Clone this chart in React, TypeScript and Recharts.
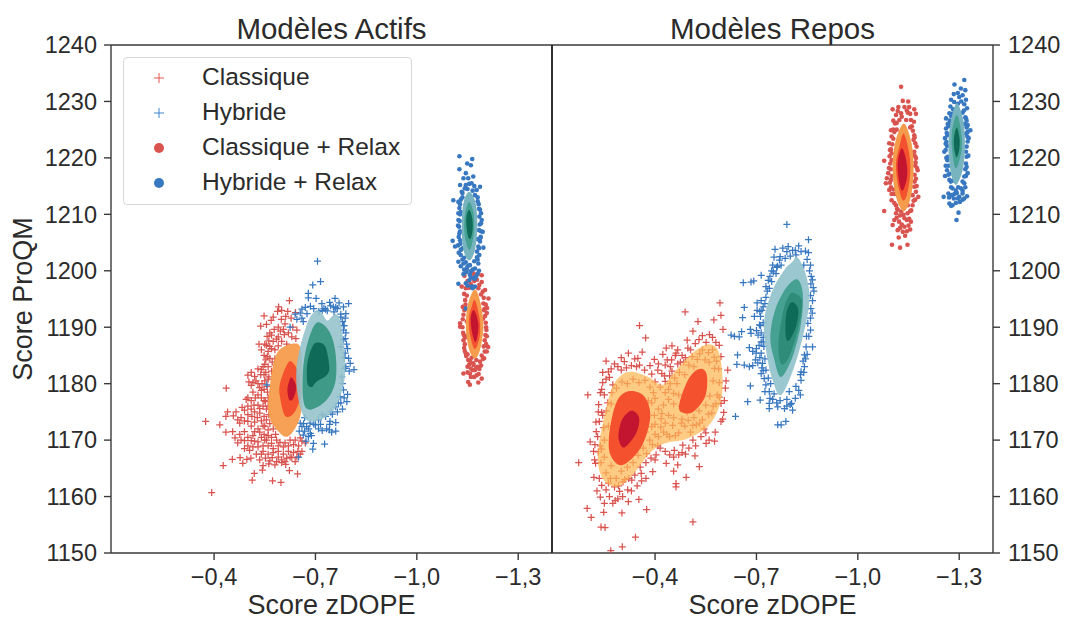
import { ReferenceLine, Scatter, ScatterChart, XAxis, YAxis } from "recharts"

type Pair = [number, number]

const FONT = "'Liberation Sans', Arial, sans-serif"
const INK = "#2b2b2b"
const RED = "#d9534f"
const BLUE = "#3878c0"

const yTicks = [1150, 1160, 1170, 1180, 1190, 1200, 1210, 1220, 1230, 1240]
const xTicks = [-0.4, -0.7, -1.0, -1.3]
const legendLabels = ["Classique", "Hybride", "Classique + Relax", "Hybride + Relax"]

// points (zDOPE, ProQM)
const activeClassique: Pair[] = [
  [-.393,1160.7],[-.375,1173.3],[-.417,1172.7],[-.435,1171.4],[-.436,1179.2],[-.427,1165.5],[-.454,1166.6],[-.477,1166.9],[-.485,1165.9],[-.497,1166.6],[-.509,1166.8],[-.519,1164.1],[-.513,1162.9],[-.543,1164.7],[-.573,1162.8],[-.598,1162.5],[-.623,1164.6],[-.647,1164],
  [-.623,1194.7],[-.591,1193.6],[-.588,1192.8],[-.569,1191.2],[-.538,1190.2],[-.599,1191.4],[-.612,1191.9],[-.628,1191.6],[-.641,1192.6],[-.633,1190],[-.645,1189.5],[-.59,1190],[-.596,1189.3],[-.608,1188.7],[-.62,1189],[-.63,1188.3],[-.642,1188],[-.557,1188.4],[-.562,1187.6],[-.533,1187],[-.575,1187.5],[-.585,1187.9],[-.6,1187.5],[-.615,1187],[-.56,1185.7],[-.57,1186.2],[-.58,1186],[-.548,1185],[-.553,1184.2],[-.565,1184.5],[-.572,1183.8],[-.58,1184.4],[-.56,1183],[-.553,1182],[-.57,1182.2],
  [-.5,1181.5],[-.503,1180.3],[-.51,1179.7],[-.524,1180.5],[-.538,1181.6],[-.53,1180],[-.55,1180.5],[-.557,1179.5],[-.515,1178.5],[-.53,1178],[-.54,1178.8],[-.5,1177.5],[-.495,1177.2],[-.56,1177.5],[-.548,1177],[-.53,1176.2],[-.545,1176],[-.555,1175.5],[-.483,1175.8],[-.51,1175.5],[-.52,1175],[-.5,1174.5],[-.535,1174.8],[-.548,1174.2],[-.44,1175],[-.435,1174.2],[-.457,1174.3],[-.48,1174],[-.47,1173.6],[-.476,1173],[-.5,1173.3],[-.52,1173.2],[-.54,1173.4],[-.49,1171.5],[-.476,1171],[-.52,1171.5],[-.53,1172],[-.55,1172.5],[-.56,1171.8],[-.48,1170],[-.5,1170.5],[-.54,1170.5],[-.49,1169.9],[-.51,1169.9],[-.53,1169.7],[-.555,1170],[-.57,1170.5],[-.585,1170],
  [-.53,1168.8],[-.545,1169],[-.56,1169],[-.575,1168.5],[-.59,1169],[-.605,1168.8],[-.62,1169],[-.635,1169.2],[-.65,1169],[-.545,1168],[-.56,1167.5],[-.575,1167.8],[-.59,1168],[-.605,1167.5],[-.62,1168],[-.635,1167.8],[-.648,1168],[-.66,1168],[-.572,1166.9],[-.585,1166.2],[-.6,1166.5],[-.615,1166.8],[-.63,1166.9],[-.645,1167],[-.535,1166.5],[-.58,1165.6],[-.6,1166],[-.612,1165.7],
  [-.548,1192],[-.555,1190.5],[-.578,1189.6],[-.565,1189],[-.61,1190.6],[-.575,1191.8],[-.618,1192.8],[-.6,1193],[-.57,1188.6],[-.59,1188.3],[-.605,1189.6],[-.55,1187],[-.54,1186],[-.565,1186.6],[-.555,1186.8],[-.59,1186.7],[-.55,1183.4],[-.558,1184.8],[-.545,1183],[-.54,1182.5],[-.562,1181.2],[-.548,1181.6],[-.56,1180.8],[-.542,1180],[-.52,1181.3],[-.51,1182],[-.53,1182.6],[-.515,1180.2],[-.535,1179.3],[-.548,1179],[-.558,1178.5],[-.522,1177.5],[-.51,1177],[-.54,1177.5],[-.518,1176.2],[-.5,1176],[-.49,1175.3],[-.535,1175.6],[-.552,1176.8],[-.56,1176],[-.562,1174.5],[-.555,1173.6],[-.565,1172.9],[-.545,1172.5],[-.528,1174],[-.512,1174.2],[-.49,1173.4],[-.465,1175],[-.455,1171.5],[-.462,1170.4],[-.51,1172.5],[-.535,1171.4],[-.575,1172],[-.582,1171],[-.548,1171],[-.56,1170.8],[-.515,1170.8],[-.47,1169.5],[-.5,1169],[-.515,1168.8],[-.54,1167.5],[-.55,1170],[-.57,1169.4],[-.595,1169.6],[-.61,1169.5],[-.625,1170],[-.64,1170],[-.655,1170.4],[-.67,1169.5],[-.525,1167.5],[-.552,1166.8],[-.565,1166.3],[-.59,1167],[-.61,1166.2],[-.625,1167],[-.64,1166.2],[-.655,1167.5],[-.545,1165.5],[-.562,1165.8],[-.66,1169.8],[-.52,1169.8],[-.505,1168.2],[-.49,1168.5],
]

const activeHybride: Pair[] = [
  [-.706,1201.7],[-.692,1197.5],[-.715,1198.1],[-.679,1196],[-.679,1195.2],[-.702,1195.1],[-.758,1195.1],[-.798,1194.2],[-.719,1194.2],[-.753,1193.6],[-.783,1193.6],[-.66,1193.2],[-.64,1192.3],[-.645,1191.4],[-.664,1191],[-.788,1191.6],[-.783,1189.5],[-.788,1188],[-.788,1185.4],[-.798,1184.5],[-.803,1183.6],[-.814,1182.5],[-.788,1182.7],[-.778,1181.2],[-.556,1179.8],[-.783,1178.9],[-.795,1178.1],[-.773,1177.7],[-.793,1176.8],[-.768,1176.5],
  [-.709,1173.6],[-.743,1173.3],[-.76,1173.1],[-.709,1172],[-.733,1172],[-.741,1171.8],[-.76,1171.6],[-.684,1173],[-.674,1172.4],[-.66,1172.4],[-.664,1170.9],[-.679,1170.6],[-.694,1169.4],[-.727,1169.3],[-.692,1168.4],[-.65,1167],[-.625,1190],
  [-.755,1192.7],[-.775,1192.3],[-.765,1193.3],[-.725,1193.3],[-.695,1193.3],[-.675,1192.4],[-.66,1191.6],[-.742,1194.4],[-.78,1191],[-.775,1186.5],[-.785,1190.3],[-.792,1187],[-.78,1175.5],[-.765,1175],[-.75,1174.6],[-.72,1174.5],[-.7,1172.7],[-.668,1174],[-.652,1171.6],[-.672,1169.8],[-.685,1171.2],[-.742,1172.8],
  [-.72,1193],[-.73,1193.2],[-.745,1193.8],[-.76,1193.5],[-.77,1194.3],[-.71,1192.8],[-.685,1193.7],[-.67,1193.5],[-.655,1192.5],[-.735,1192.9],[-.775,1191.8],[-.79,1192.4],[-.783,1190.3],[-.79,1189],[-.782,1187.8],[-.795,1186.2],[-.785,1184.6],[-.79,1183],[-.8,1182.2],[-.78,1180],[-.785,1177.5],[-.775,1176.6],[-.76,1175.9],[-.745,1175],[-.73,1174.2],[-.715,1172.8],[-.695,1172.8],[-.68,1172],[-.665,1172.9],[-.655,1173],[-.72,1171.7],[-.748,1171.4],[-.668,1171.6],[-.688,1170.8],
]

const activeClassiqueRelax: Pair[] = [
  [-1.141,1199.1],[-1.133,1197.2],[-1.192,1199.2],[-1.192,1198],[-1.182,1196.9],[-1.202,1196.6],[-1.212,1195.1],[-1.143,1194.8],[-1.197,1194.2],[-1.136,1193.6],[-1.138,1192.2],[-1.207,1192.5],[-1.128,1190.7],[-1.206,1189.5],[-1.128,1190.1],[-1.138,1187.7],[-1.201,1187.7],[-1.211,1186.5],[-1.145,1185.4],[-1.201,1185.7],[-1.152,1184.2],[-1.187,1183.9],[-1.167,1183.6],[-1.138,1181.8],[-1.157,1181.8],[-1.177,1181.5],[-1.192,1180.9],[-1.152,1180.3],[-1.157,1179.8],[-1.182,1180.2],[-1.172,1182.4],
  [-1.15,1198.2],[-1.165,1198.8],[-1.178,1198.4],[-1.145,1196.9],[-1.155,1197],[-1.19,1195.8],[-1.14,1195.9],[-1.2,1193.2],[-1.141,1193],[-1.204,1190.8],[-1.137,1189],[-1.203,1188.6],[-1.14,1186.3],[-1.198,1186.6],[-1.146,1184.9],[-1.192,1185],[-1.155,1183.4],[-1.18,1183],[-1.165,1182.4],[-1.15,1183],[-1.185,1182.6],[-1.162,1184.6],[-1.176,1184.2],[-1.148,1191],[-1.196,1191.5],[-1.143,1188.2],[-1.199,1184.5],[-1.16,1181.2],
  [-1.148,1197],[-1.16,1197.6],[-1.185,1197.5],[-1.195,1196.3],[-1.148,1195.6],[-1.198,1195.2],[-1.144,1194],[-1.204,1194],[-1.14,1193.5],[-1.208,1193.4],[-1.136,1191.4],[-1.202,1192],[-1.135,1190],[-1.205,1190],[-1.139,1188.6],[-1.207,1188.4],[-1.142,1187],[-1.205,1187],[-1.142,1185.8],[-1.207,1185.7],[-1.15,1185.2],[-1.196,1184.4],[-1.158,1184],[-1.19,1183.2],[-1.168,1183.3],[-1.176,1182.8],[-1.16,1182.7],[-1.15,1182],[-1.183,1181.7],[-1.17,1181.2],[-1.148,1188.5],[-1.199,1193],[-1.17,1198.2],[-1.18,1199.4],[-1.168,1199.5],[-1.155,1198.2],
]

const activeHybrideRelax: Pair[] = [
  [-1.126,1220.3],[-1.164,1219.8],[-1.149,1219],[-1.16,1218.7],[-1.126,1218],[-1.145,1217.3],[-1.138,1216.4],[-1.152,1216.4],[-1.167,1216.7],[-1.128,1215.2],[-1.162,1215.5],[-1.187,1214.9],[-1.177,1214.3],[-1.133,1214],[-1.108,1212.5],[-1.123,1212.2],[-1.187,1210.8],[-1.126,1211.1],[-1.192,1209],[-1.123,1209],[-1.195,1206.9],[-1.126,1206.6],[-1.128,1205.4],[-1.106,1205.3],[-1.113,1204.3],[-1.187,1205.2],[-1.197,1204.1],[-1.182,1204.3],[-1.13,1202.8],[-1.185,1202.8],[-1.123,1201.6],[-1.138,1201.3],[-1.182,1201.3],[-1.157,1201],[-1.172,1200.4],[-1.138,1199.4],[-1.157,1199.3],[-1.167,1198.7],[-1.123,1197.7],[-1.145,1197.8],[-1.162,1197.2],[-1.172,1197.2],[-1.145,1193.3],
  [-1.145,1215.2],[-1.17,1215],[-1.155,1215.4],[-1.135,1213],[-1.18,1213],[-1.128,1210],[-1.183,1211.8],[-1.186,1208.2],[-1.125,1207.8],[-1.19,1207],[-1.122,1204.5],[-1.189,1206],[-1.13,1203.7],[-1.178,1202.4],[-1.14,1202.3],[-1.165,1200.2],[-1.148,1200.3],[-1.13,1200.8],[-1.175,1199],[-1.155,1198.3],[-1.147,1199.8],[-1.184,1200],
  [-1.15,1214.5],[-1.142,1214.6],[-1.165,1214.2],[-1.135,1213.8],[-1.172,1213.4],[-1.13,1212.6],[-1.18,1212.3],[-1.128,1211.8],[-1.184,1211],[-1.13,1210.4],[-1.19,1210.2],[-1.123,1210.2],[-1.185,1209.6],[-1.127,1208.8],[-1.19,1208.4],[-1.122,1208],[-1.184,1207.2],[-1.128,1207],[-1.188,1205.8],[-1.124,1206],[-1.181,1205.6],[-1.129,1204.8],[-1.184,1204],[-1.135,1204],[-1.178,1203.4],[-1.124,1203.2],[-1.18,1202],[-1.135,1202],[-1.145,1201.5],[-1.17,1201.7],[-1.15,1200.8],[-1.16,1199.9],[-1.14,1200.2],[-1.172,1198.6],[-1.18,1199.5],[-1.165,1196.9],[-1.15,1197.4],[-1.16,1198.8],
]

const reposClassique: Pair[] = [
  [-.592,1194.3],[-.489,1192.7],[-.595,1192.1],[-.527,1191],[-.574,1191.3],[-.354,1190.3],[-.601,1189.6],[-.512,1189.3],[-.561,1188.7],[-.372,1188.1],[-.495,1187.7],[-.519,1187.1],[-.551,1187.3],[-.59,1186.8],[-.45,1186.7],[-.433,1186.3],[-.467,1186],[-.497,1186.3],[-.362,1185.6],[-.321,1185.4],[-.423,1185.2],[-.462,1185.4],[-.349,1184.5],[-.255,1184],[-.309,1183.9],[-.28,1183.5],[-.398,1184.3],[-.436,1184.2],[-.449,1184.2],[-.467,1183.5],[-.354,1183.3],[-.43,1183.3],[-.245,1182],[-.262,1182.1],[-.3,1182.4],[-.369,1182.4],[-.408,1182.4],[-.265,1181.1],[-.245,1180.2],[-.275,1179.8],[-.242,1179],[-.238,1178.4],[-.201,1178],[-.428,1181.4],[-.443,1181.4],[-.233,1176.3],[-.242,1174.9],[-.235,1173.3],[-.226,1171.5],[-.208,1169.7],[-.23,1170.6],[-.174,1166],[-.221,1166.5],[-.224,1165.9],[-.219,1163.4],[-.235,1163.2],[-.242,1162],[-.255,1161.2],[-.28,1161.7],[-.319,1161.2],[-.295,1160.9],[-.238,1159.9],[-.265,1160],[-.275,1158.8],[-.304,1160],[-.321,1159.1],[-.352,1159.5],[-.199,1157.9],[-.248,1157.2],[-.302,1157.1],[-.375,1157.7],[-.211,1156.3],[-.24,1154.6],[-.252,1154.5],[-.342,1152.8],[-.303,1151.1],[-.269,1150.4],[-.512,1155.5],
  [-.408,1169],[-.403,1167.4],[-.373,1166],[-.388,1166.8],[-.393,1164.4],[-.373,1163.2],[-.359,1164.1],[-.347,1161.9],[-.331,1162.9],[-.433,1165.9],[-.443,1167.4],[-.467,1165.6],[-.455,1164.5],[-.492,1163.4],[-.462,1162.3],[-.462,1161.7],[-.531,1165.3],[-.518,1167.2],[-.49,1167.5],[-.457,1168.2],[-.482,1169.1],[-.512,1170],[-.536,1170.6],[-.551,1169.4],[-.576,1169.8],[-.578,1171.4],[-.595,1173.3],[-.603,1174.9],[-.595,1176.5],[-.608,1179.2],[-.615,1182.4],[-.595,1184.8],
  [-.34,1184.4],[-.3,1184.6],[-.33,1183.2],[-.29,1183],[-.27,1182.6],[-.315,1182.8],[-.345,1183],[-.385,1183.2],[-.41,1183.5],[-.42,1181.8],[-.39,1181.7],[-.445,1183],[-.46,1185],[-.48,1185],[-.49,1184.6],[-.505,1186],[-.53,1187.8],[-.54,1188.5],[-.57,1188.2],[-.58,1187.3],[-.255,1180.8],[-.25,1178],[-.232,1175],[-.225,1173.2],[-.222,1169.2],[-.218,1168],[-.232,1167.9],[-.228,1161],[-.25,1158.8],[-.282,1159.3],[-.29,1159.6],[-.33,1161],[-.36,1162.8],[-.55,1171.3],[-.56,1170],[-.52,1169],[-.5,1168.6],[-.48,1167.8],[-.455,1167],[-.47,1167.4],[-.43,1168],[-.415,1168.6],[-.4,1166.5],[-.6,1173.7],[-.605,1177],[-.61,1180.5],
  // under the contours
  [-.25,1170],[-.262,1172.5],[-.24,1166],[-.255,1164.2],[-.27,1165.5],[-.285,1163.2],[-.3,1164.5],[-.318,1165.2],[-.335,1166],[-.35,1167.3],[-.365,1168.6],[-.384,1170],[-.4,1171],[-.417,1172.3],[-.435,1171],[-.452,1172.6],[-.47,1171.3],[-.488,1172.5],[-.505,1171.4],[-.522,1172.7],[-.54,1173.6],[-.558,1174.6],[-.572,1176],[-.584,1178],[-.59,1180.2],[-.588,1182.6],[-.575,1184.7],[-.558,1185.5],[-.54,1186],[-.525,1184.3],[-.51,1184.8],[-.5,1183.3],[-.485,1183.8],[-.472,1182],[-.458,1181],[-.445,1180],[-.43,1178.4],[-.415,1179.4],[-.4,1180.3],[-.385,1179.4],[-.37,1180.6],[-.352,1180.2],[-.335,1180.8],[-.318,1180],[-.302,1180.3],[-.286,1179.2],[-.27,1176.4],[-.256,1175.2],[-.248,1172.2],[-.4,1177.4],[-.41,1175.5],[-.425,1176.2],[-.44,1177.2],[-.455,1176.4],[-.47,1178],[-.455,1174],[-.44,1174.4],[-.418,1173.8],[-.398,1174.4],[-.39,1172.4],[-.372,1171.4],[-.48,1173.7],[-.498,1173.5],[-.515,1174],[-.53,1175.2],[-.55,1176.2],[-.562,1177.8],[-.572,1180.5],[-.576,1182.7],[-.56,1183.8],[-.242,1168.4],[-.292,1161.9],[-.262,1162.4],[-.31,1163],
  [-.425,1171.4],[-.443,1170.6],[-.46,1170.8],[-.478,1173],[-.495,1175],[-.512,1172.6],[-.532,1173],[-.545,1172],[-.568,1174.8],[-.58,1176.4],[-.59,1177.6],[-.42,1174.7],[-.43,1180.4],[-.44,1179],[-.45,1182.2],[-.465,1180],[-.478,1176],[-.455,1178.3],[-.43,1173],[-.41,1170.6],[-.392,1169.2],[-.375,1167.6],[-.356,1165.2],[-.34,1163.8],[-.322,1163.2],[-.305,1162.6],[-.268,1163.2],[-.25,1167],[-.238,1169],[-.245,1174.4],[-.26,1176.6],[-.272,1178.4],[-.39,1176.6],[-.395,1178.4],[-.38,1177],[-.4,1172.8],[-.582,1184],[-.57,1186],[-.548,1184.2],[-.532,1185.3],[-.515,1183],[-.488,1181.6],[-.475,1183.8],
]

const reposHybride: Pair[] = [
  [-.79,1208.2],[-.854,1205.5],[-.755,1203.8],[-.778,1204],[-.794,1204.3],[-.825,1204.4],[-.832,1203.4],[-.807,1203.6],[-.854,1203.2],[-.817,1202.8],[-.85,1202],[-.768,1201.9],[-.785,1202.2],[-.748,1201],[-.773,1201],[-.745,1200],[-.758,1199.5],[-.714,1199.2],[-.857,1200],[-.684,1198],[-.692,1198.2],[-.661,1197.9],[-.745,1198.1],[-.866,1198.4],[-.861,1197.7],[-.738,1196.9],[-.702,1194.3],[-.714,1194.7],[-.728,1195.3],[-.866,1194.7],[-.861,1193.3],[-.664,1193.5],[-.702,1193],[-.659,1191.7],[-.694,1191.9],[-.712,1191.9],[-.852,1190.7],[-.709,1190.4],[-.682,1189.6],[-.656,1189.2],[-.625,1188.6],[-.635,1188.4],[-.649,1188.3],[-.684,1188.9],[-.714,1189],[-.714,1187.4],[-.679,1186.4],[-.689,1185.7],[-.866,1186.5],[-.847,1186.5],[-.699,1185.4],[-.714,1185.4],[-.644,1185.1],[-.842,1185.1],[-.642,1183.4],[-.664,1183.3],[-.679,1183],[-.689,1183.2],[-.704,1183.7],[-.718,1183.6],[-.842,1183],[-.832,1182.1],[-.714,1181.8],[-.723,1180.9],[-.832,1180.6],[-.728,1179.8],[-.682,1179.6],[-.817,1179.5],[-.738,1178.6],[-.797,1178.6],[-.674,1176.8],[-.711,1177.1],[-.738,1176.5],[-.763,1175.9],[-.783,1175.6],[-.807,1175.3],[-.804,1176.5],[-.738,1175.6],[-.638,1174.2],[-.763,1172.7],[-.773,1172.7],[-.787,1173.3],
  [-.752,1202.4],[-.76,1200.6],[-.735,1198.3],[-.728,1197.2],[-.72,1193.6],[-.71,1192.8],[-.72,1190.8],[-.7,1189.4],[-.72,1188.2],[-.708,1186.8],[-.722,1186.6],[-.697,1184.2],[-.725,1184.4],[-.728,1182.4],[-.735,1181],[-.742,1180],[-.752,1178.2],[-.748,1177.2],[-.77,1177],[-.79,1177.2],[-.815,1177.4],[-.825,1178.8],[-.83,1181.6],[-.838,1184],[-.848,1188.4],[-.86,1191.6],[-.87,1196.4],[-.862,1199],[-.84,1201],[-.8,1202.6],[-.86,1195.6],[-.845,1184.4],
  [-.77,1202.5],[-.762,1200.8],[-.75,1199.8],[-.74,1199],[-.732,1196.4],[-.725,1194.2],[-.716,1193],[-.712,1190.3],[-.705,1188.6],[-.72,1187.4],[-.7,1186.2],[-.71,1184.6],[-.716,1182.8],[-.74,1177.4],[-.76,1176.6],[-.79,1176],[-.8,1176.3],[-.83,1178],[-.84,1182],[-.85,1185.2],[-.855,1188.4],[-.86,1189.5],[-.865,1192.5],[-.868,1197],[-.86,1201],[-.845,1203.5],[-.815,1203.6],[-.79,1203.4],[-.72,1182.3],[-.725,1178.6],
]

const reposClassiqueRelax: Pair[] = [
  [-1.128,1232.6],[-1.133,1230.1],[-1.149,1230],[-1.152,1229],[-1.103,1228.6],[-1.138,1229],[-1.167,1228.6],[-1.172,1227.8],[-1.113,1227.6],[-1.123,1226.7],[-1.143,1226.7],[-1.157,1226.7],[-1.11,1226.1],[-1.098,1224.9],[-1.108,1224.6],[-1.167,1224],[-1.093,1222.6],[-1.17,1222.6],[-1.1,1220.8],[-1.167,1221.1],[-1.078,1219.5],[-1.096,1219],[-1.177,1217.8],[-1.09,1217.3],[-1.086,1216.4],[-1.098,1216.1],[-1.083,1215.5],[-1.093,1214.3],[-1.167,1214.9],[-1.179,1213.1],[-1.162,1213.4],[-1.1,1212.5],[-1.113,1211.6],[-1.162,1211.6],[-1.078,1210.6],[-1.113,1210.2],[-1.128,1210.5],[-1.147,1210.2],[-1.108,1209],[-1.138,1209.3],[-1.157,1208.7],[-1.103,1208.1],[-1.138,1207.8],[-1.133,1206.9],[-1.155,1207.3],[-1.121,1205.9],[-1.101,1204.6],[-1.125,1204.1],[-1.147,1204.6],
  [-1.118,1228.3],[-1.128,1227.9],[-1.148,1228],[-1.16,1225.6],[-1.115,1225],[-1.105,1223.4],[-1.165,1223.2],[-1.098,1221.5],[-1.172,1220],[-1.094,1220.3],[-1.17,1218.6],[-1.092,1218.2],[-1.172,1216.3],[-1.098,1214.8],[-1.174,1215],[-1.1,1213.6],[-1.17,1212.6],[-1.108,1212],[-1.118,1210.8],[-1.155,1210.6],[-1.145,1209],[-1.122,1208.7],[-1.13,1208.2],[-1.118,1207.2],[-1.15,1208],[-1.135,1211.4],[-1.166,1226.4],[-1.105,1226.6],
  [-1.12,1229],[-1.145,1228.4],[-1.155,1227.8],[-1.13,1227.3],[-1.115,1226.2],[-1.155,1225.4],[-1.105,1225],[-1.163,1224.8],[-1.1,1223.8],[-1.168,1223.6],[-1.102,1222.4],[-1.174,1222],[-1.095,1221.4],[-1.168,1220.4],[-1.1,1219.6],[-1.171,1219.2],[-1.098,1218],[-1.175,1218.2],[-1.1,1216.8],[-1.168,1217],[-1.095,1215.6],[-1.168,1215.8],[-1.105,1214.4],[-1.172,1214],[-1.108,1213.6],[-1.165,1212.4],[-1.116,1211],[-1.158,1210.7],[-1.125,1209.8],[-1.135,1209.9],[-1.152,1209.2],[-1.115,1209.4],[-1.125,1207.6],[-1.145,1207],[-1.14,1206.2],[-1.148,1211.6],
]

const reposHybrideRelax: Pair[] = [
  [-1.315,1233.8],[-1.286,1233],[-1.305,1232.3],[-1.318,1232],[-1.284,1231.3],[-1.31,1231.1],[-1.276,1230.3],[-1.32,1230.3],[-1.274,1229.1],[-1.323,1228.8],[-1.271,1227.9],[-1.32,1227],[-1.261,1227],[-1.271,1226.1],[-1.325,1225.8],[-1.261,1225.2],[-1.333,1224.9],[-1.32,1224.3],[-1.258,1223.5],[-1.325,1222.9],[-1.264,1222.1],[-1.256,1221.1],[-1.32,1221.1],[-1.266,1220.2],[-1.32,1219],[-1.325,1217.3],[-1.258,1216.8],[-1.315,1216.7],[-1.271,1216.1],[-1.315,1215.5],[-1.276,1214.8],[-1.297,1214.8],[-1.268,1213.7],[-1.286,1213.6],[-1.31,1213.7],[-1.254,1213.1],[-1.323,1213.2],[-1.3,1213.1],[-1.271,1211.9],[-1.276,1211.5],[-1.298,1210.3],[-1.292,1209],
  [-1.296,1231.5],[-1.306,1230],[-1.314,1228.4],[-1.282,1228.6],[-1.296,1229.6],[-1.276,1227.4],[-1.315,1226],[-1.268,1225.6],[-1.322,1225.4],[-1.265,1224],[-1.324,1223.8],[-1.262,1222.8],[-1.322,1220.2],[-1.262,1220],[-1.268,1218.6],[-1.318,1218],[-1.264,1217.8],[-1.272,1217.2],[-1.31,1215.8],[-1.282,1216],[-1.305,1214.6],[-1.29,1214.2],[-1.278,1213.4],[-1.296,1212.8],[-1.284,1212.8],[-1.31,1212.6],
  [-1.3,1230.8],[-1.285,1229.9],[-1.315,1229.5],[-1.28,1227.8],[-1.31,1228],[-1.272,1226.6],[-1.318,1227.2],[-1.266,1226],[-1.322,1226.6],[-1.263,1224.4],[-1.325,1224.6],[-1.26,1222.5],[-1.328,1223.5],[-1.26,1221.4],[-1.322,1222],[-1.265,1219.6],[-1.327,1220.4],[-1.26,1218.6],[-1.322,1218.4],[-1.268,1217],[-1.32,1216.8],[-1.275,1215.8],[-1.318,1214.8],[-1.28,1214.6],[-1.31,1214.2],[-1.293,1213.8],[-1.302,1212.2],[-1.29,1212],[-1.27,1213],[-1.315,1212.8],[-1.28,1211.6],
]

// density contours (zDOPE, ProQM), outermost first
const activeClassiqueOuter: Pair[] = [[-.635,1187.1],[-.657,1186],[-.66,1180],[-.655,1174.2],[-.62,1170.7],[-.586,1171.8],[-.561,1174.7],[-.566,1180],[-.586,1185.4]]
const activeClassiqueMid: Pair[] = [[-.63,1183.9],[-.65,1181.8],[-.655,1177.7],[-.635,1174.7],[-.61,1174.3],[-.595,1177.7],[-.595,1180],[-.615,1183.3]]
const activeClassiqueInner: Pair[] = [[-.63,1181.1],[-.643,1179.5],[-.635,1177.4],[-.623,1177.1],[-.617,1178.9],[-.623,1180.6]]
const activeHybrideOuter: Pair[] = [[-.685,1191.9],[-.705,1193],[-.72,1192.4],[-.735,1191.2],[-.75,1192],[-.762,1192.3],[-.775,1190.8],[-.785,1186],[-.788,1181.8],[-.775,1178],[-.753,1175.2],[-.714,1173.6],[-.672,1173.6],[-.65,1177.1],[-.643,1181.8],[-.653,1186],[-.669,1189.5]]
const activeHybrideMid: Pair[] = [[-.704,1190.8],[-.738,1189.5],[-.758,1186],[-.76,1180.7],[-.733,1177.1],[-.684,1175.4],[-.664,1177.1],[-.664,1183],[-.679,1187.7]]
const activeHybrideInner: Pair[] = [[-.704,1187.3],[-.729,1186.6],[-.741,1183],[-.733,1181.5],[-.704,1180.4],[-.689,1179.4],[-.676,1180.1],[-.676,1183.6],[-.689,1186.3]]
const activeClassiqueRelaxOuter: Pair[] = [[-1.172,1196.7],[-1.189,1194.2],[-1.197,1190.1],[-1.187,1186],[-1.172,1184.5],[-1.155,1186],[-1.145,1190.1],[-1.152,1194.2]]
const activeClassiqueRelaxMid: Pair[] = [[-1.172,1194.8],[-1.185,1191.9],[-1.187,1188.9],[-1.177,1186.5],[-1.167,1186.5],[-1.155,1189.5],[-1.155,1191.9],[-1.162,1193.6]]
const activeClassiqueRelaxInner: Pair[] = [[-1.17,1193],[-1.182,1190.7],[-1.179,1188.3],[-1.172,1187.4],[-1.162,1189.5],[-1.16,1191.9]]
const activeHybrideRelaxOuter: Pair[] = [[-1.155,1214],[-1.174,1212],[-1.179,1207.8],[-1.172,1203.7],[-1.155,1201.8],[-1.138,1203.7],[-1.133,1207.8],[-1.138,1212]]
const activeHybrideRelaxMid: Pair[] = [[-1.155,1212.2],[-1.167,1210.5],[-1.17,1207.5],[-1.164,1204.9],[-1.155,1203.7],[-1.145,1205.2],[-1.14,1207.8],[-1.144,1210.5]]
const activeHybrideRelaxInner: Pair[] = [[-1.155,1210.8],[-1.164,1209.3],[-1.165,1207.2],[-1.159,1205.7],[-1.152,1206],[-1.147,1207.8],[-1.147,1209.6]]

const reposClassiqueOuter: Pair[] = [[-.334,1182.1],[-.383,1181.1],[-.423,1179.8],[-.462,1182.4],[-.516,1185.7],[-.561,1187],[-.59,1185.4],[-.6,1180],[-.59,1175.9],[-.556,1172.4],[-.497,1170.3],[-.428,1169.4],[-.383,1167.6],[-.329,1163.5],[-.285,1161.7],[-.245,1163.2],[-.23,1167],[-.245,1172.9],[-.27,1178.9],[-.3,1181.5]]
const reposClassiqueMidA: Pair[] = [[-.329,1178.7],[-.369,1177.7],[-.386,1174.1],[-.359,1168.8],[-.304,1165.6],[-.27,1167.1],[-.263,1170],[-.275,1174.7],[-.295,1177.7]]
const reposClassiqueMidB: Pair[] = [[-.541,1182.6],[-.554,1181.2],[-.548,1177.7],[-.512,1175],[-.477,1175],[-.472,1176.5],[-.492,1180],[-.516,1182.1]]
const reposClassiqueInner: Pair[] = [[-.334,1175.2],[-.353,1173.9],[-.344,1171.2],[-.309,1168.7],[-.292,1170.3],[-.298,1173],[-.314,1174.6]]
const reposHybrideOuter: Pair[] = [[-.805,1201.5],[-.82,1202.4],[-.836,1201],[-.85,1198.5],[-.857,1194.8],[-.842,1189.5],[-.812,1183],[-.773,1178],[-.748,1180.6],[-.728,1186],[-.723,1191.3],[-.748,1196.6],[-.783,1200.2]]
const reposHybrideMid: Pair[] = [[-.82,1198.5],[-.837,1196],[-.832,1190.7],[-.807,1184.8],[-.773,1181.2],[-.753,1184.2],[-.741,1188.3],[-.755,1193],[-.787,1196.9]]
const reposHybrideDeep: Pair[] = [[-.807,1196.1],[-.834,1194.8],[-.827,1190.7],[-.797,1184.8],[-.773,1183.5],[-.765,1187.1],[-.778,1192.5],[-.792,1195.1]]
const reposHybrideInner: Pair[] = [[-.81,1194.4],[-.824,1193],[-.817,1190.1],[-.797,1187.7],[-.787,1188.3],[-.787,1191.9],[-.797,1194]]
const reposClassiqueRelaxOuter: Pair[] = [[-1.136,1226.1],[-1.159,1222.6],[-1.165,1217.8],[-1.157,1213.1],[-1.136,1210.5],[-1.113,1213.1],[-1.103,1217.8],[-1.11,1222.6]]
const reposClassiqueRelaxMid: Pair[] = [[-1.136,1224.3],[-1.152,1220.8],[-1.155,1217.3],[-1.146,1213.7],[-1.133,1212.5],[-1.118,1215.5],[-1.113,1219],[-1.123,1222]]
const reposClassiqueRelaxInner: Pair[] = [[-1.13,1221.7],[-1.143,1219.6],[-1.146,1216.7],[-1.133,1214.2],[-1.123,1215.5],[-1.118,1219]]
const reposHybrideRelaxOuter: Pair[] = [[-1.293,1229.7],[-1.312,1226.7],[-1.317,1222],[-1.31,1217.8],[-1.29,1215.2],[-1.274,1217.8],[-1.268,1222.6],[-1.276,1226.7]]
const reposHybrideRelaxMid: Pair[] = [[-1.293,1227.6],[-1.305,1224.9],[-1.307,1221.4],[-1.29,1218.1],[-1.279,1221.4],[-1.279,1224.9]]
const reposHybrideRelaxInner: Pair[] = [[-1.293,1225.4],[-1.301,1223.5],[-1.3,1221.4],[-1.292,1220.1],[-1.285,1221.7],[-1.285,1223.8]]

const ORANGE = "#f59c4c"
const ORANGE_THIN = "#fdb755"
const VERMILION = "#f4512f"
const CRIMSON = "#c3152f"
const PALE_TEAL = "#93c2cc"
const RELAX_TEAL = "#78b4bf"
const TEAL = "#46a192"
const DEEP_TEAL = "#2f8c78"
const DARK_TEAL = "#0f6b58"

type Layer = [Pair[], string, number]

const activeLayers: Layer[] = [
  [activeClassiqueOuter, ORANGE, 0.95],
  [activeClassiqueMid, VERMILION, 1],
  [activeClassiqueInner, CRIMSON, 1],
  [activeHybrideOuter, PALE_TEAL, 0.88],
  [activeHybrideMid, "#3f9a88", 1],
  [activeHybrideInner, DARK_TEAL, 1],
  [activeClassiqueRelaxOuter, ORANGE, 1],
  [activeClassiqueRelaxMid, VERMILION, 1],
  [activeClassiqueRelaxInner, CRIMSON, 1],
  [activeHybrideRelaxOuter, RELAX_TEAL, 1],
  [activeHybrideRelaxMid, TEAL, 1],
  [activeHybrideRelaxInner, DARK_TEAL, 1],
]

const reposLayers: Layer[] = [
  [reposClassiqueOuter, ORANGE_THIN, 0.72],
  [reposClassiqueMidA, VERMILION, 1],
  [reposClassiqueMidB, VERMILION, 1],
  [reposClassiqueInner, CRIMSON, 1],
  [reposHybrideOuter, PALE_TEAL, 0.92],
  [reposHybrideMid, TEAL, 1],
  [reposHybrideDeep, DEEP_TEAL, 1],
  [reposHybrideInner, DARK_TEAL, 1],
  [reposClassiqueRelaxOuter, ORANGE, 1],
  [reposClassiqueRelaxMid, VERMILION, 1],
  [reposClassiqueRelaxInner, CRIMSON, 1],
  [reposHybrideRelaxOuter, RELAX_TEAL, 1],
  [reposHybrideRelaxMid, TEAL, 1],
  [reposHybrideRelaxInner, DARK_TEAL, 1],
]

const toPoints = (pairs: Pair[]) => pairs.map(([x, y]) => ({ x, y }))

const formatX = (v: number) => "\u2212" + Math.abs(v).toFixed(1).replace(".", ",")

// closed Catmull-Rom through the projected contour points
const closedPath = (pts: { x: number; y: number }[]) => {
  const n = pts.length
  let d = `M${pts[0].x},${pts[0].y}`
  for (let i = 0; i < n; i++) {
    const p0 = pts[(i - 1 + n) % n]
    const p1 = pts[i]
    const p2 = pts[(i + 1) % n]
    const p3 = pts[(i + 2) % n]
    d += `C${p1.x + (p2.x - p0.x) / 6},${p1.y + (p2.y - p0.y) / 6} ${p2.x - (p3.x - p1.x) / 6},${p2.y - (p3.y - p1.y) / 6} ${p2.x},${p2.y}`
  }
  return d + "Z"
}

const PlusMark = ({ cx, cy, color }: any) => (
  <path d={`M${cx - 3.5},${cy}H${cx + 3.5}M${cx},${cy - 3.5}V${cy + 3.5}`} stroke={color} strokeWidth={1.25} fill="none" />
)

const DotMark = ({ cx, cy, color }: any) => <circle cx={cx} cy={cy} r={2.3} fill={color} />

const plusSeries = (pairs: Pair[], color: string, key: string) => (
  <Scatter key={key} data={toPoints(pairs)} isAnimationActive={false} shape={(p: any) => <PlusMark cx={p.cx} cy={p.cy} color={color} />} />
)

const dotSeries = (pairs: Pair[], color: string, key: string) => (
  <Scatter key={key} data={toPoints(pairs)} isAnimationActive={false} shape={(p: any) => <DotMark cx={p.cx} cy={p.cy} color={color} />} />
)

const contourSeries = ([pairs, fill, opacity]: Layer, i: number) => (
  <Scatter
    key={`contour-${i}`}
    data={toPoints(pairs)}
    isAnimationActive={false}
    shape={() => null}
    line={(p: any) => <path d={closedPath(p.points)} fill={fill} fillOpacity={opacity} stroke="none" />}
  />
)

const tickStyle = { fontSize: 23.5, fill: INK, fontFamily: FONT }
const axisLine = { stroke: "#3a3a3a", strokeWidth: 1.4 }
const labelStyle = { fontSize: 27, fill: INK, fontFamily: FONT }
const titleStyle = { fontSize: 29.5, fill: INK, fontFamily: FONT }

const Legend = () => (
  <div
    style={{
      position: "absolute", left: 123, top: 57, width: 287, height: 146, background: "#fff",
      border: "1px solid #d8d8d8", borderRadius: 4, fontFamily: FONT, fontSize: 24.5, color: INK,
    }}
  >
    {legendLabels.map((label, i) => (
      <div key={label} style={{ position: "absolute", left: 78, top: 4 + i * 35, lineHeight: "30px", whiteSpace: "nowrap" }}>
        {label}
      </div>
    ))}
    <svg width={60} height={146} style={{ position: "absolute", left: 0, top: 0 }}>
      <path d="M35,15V25M30,20H40" stroke="#e5564e" strokeWidth={1} fill="none" />
      <path d="M35,50V60M30,55H40" stroke="#3f86cf" strokeWidth={1} fill="none" />
      <circle cx={35} cy={90} r={5} fill={RED} />
      <circle cx={35} cy={125} r={5} fill={BLUE} />
    </svg>
  </div>
)

const sharedXAxis = (
  <XAxis
    type="number"
    dataKey="x"
    domain={[-1.4, -0.095]}
    reversed
    allowDataOverflow
    ticks={xTicks}
    tickFormatter={formatX}
    tickSize={7}
    tickMargin={8}
    tick={tickStyle}
    axisLine={axisLine}
    tickLine={axisLine}
    height={65}
    label={{ value: "Score zDOPE", position: "insideBottom", offset: 4, style: labelStyle }}
  />
)

export default function App() {
  return (
    <div style={{ position: "absolute", left: 0, top: 0, width: 1067, height: 618, background: "#fff", overflow: "hidden" }}>
      <div style={{ position: "absolute", left: 0, top: 0 }}>
        <ScatterChart width={556} height={618} margin={{ top: 45, right: 4, bottom: 0, left: 0 }}>
          {sharedXAxis}
          <YAxis
            type="number"
            dataKey="y"
            domain={[1150, 1240]}
            ticks={yTicks}
            interval={0}
            allowDataOverflow
            width={111}
            tickSize={7}
            tickMargin={7}
            tick={tickStyle}
            axisLine={axisLine}
            tickLine={axisLine}
            label={{ value: "Score ProQM", angle: -90, position: "insideLeft", offset: 22, textAnchor: "middle", style: { ...labelStyle, textAnchor: "middle" } }}
          />
          {plusSeries(activeClassique, RED, "ac")}
          {plusSeries(activeHybride, BLUE, "ah")}
          {dotSeries(activeClassiqueRelax, RED, "acr")}
          {dotSeries(activeHybrideRelax, BLUE, "ahr")}
          {activeLayers.map(contourSeries)}
          <ReferenceLine y={1240} stroke="#3a3a3a" strokeWidth={1.4} label={{ value: "Modèles Actifs", position: "top", offset: 6, style: titleStyle }} />
          <ReferenceLine x={-1.4} stroke="#1c1c1c" strokeWidth={1.4} />
        </ScatterChart>
      </div>
      <div style={{ position: "absolute", left: 548, top: 0 }}>
        <ScatterChart width={519} height={618} margin={{ top: 45, right: 14, bottom: 0, left: 4 }}>
          {sharedXAxis}
          <YAxis
            type="number"
            dataKey="y"
            orientation="right"
            domain={[1150, 1240]}
            ticks={yTicks}
            interval={0}
            allowDataOverflow
            width={60}
            tickSize={7}
            tickMargin={8}
            tick={tickStyle}
            axisLine={axisLine}
            tickLine={axisLine}
          />
          {plusSeries(reposClassique, RED, "rc")}
          {plusSeries(reposHybride, BLUE, "rh")}
          {dotSeries(reposClassiqueRelax, RED, "rcr")}
          {dotSeries(reposHybrideRelax, BLUE, "rhr")}
          {reposLayers.map(contourSeries)}
          <ReferenceLine y={1240} stroke="#3a3a3a" strokeWidth={1.4} label={{ value: "Modèles Repos", position: "top", offset: 6, style: titleStyle }} />
          <ReferenceLine x={-0.095} stroke="#1c1c1c" strokeWidth={1.4} />
        </ScatterChart>
      </div>
      <Legend />
    </div>
  )
}
